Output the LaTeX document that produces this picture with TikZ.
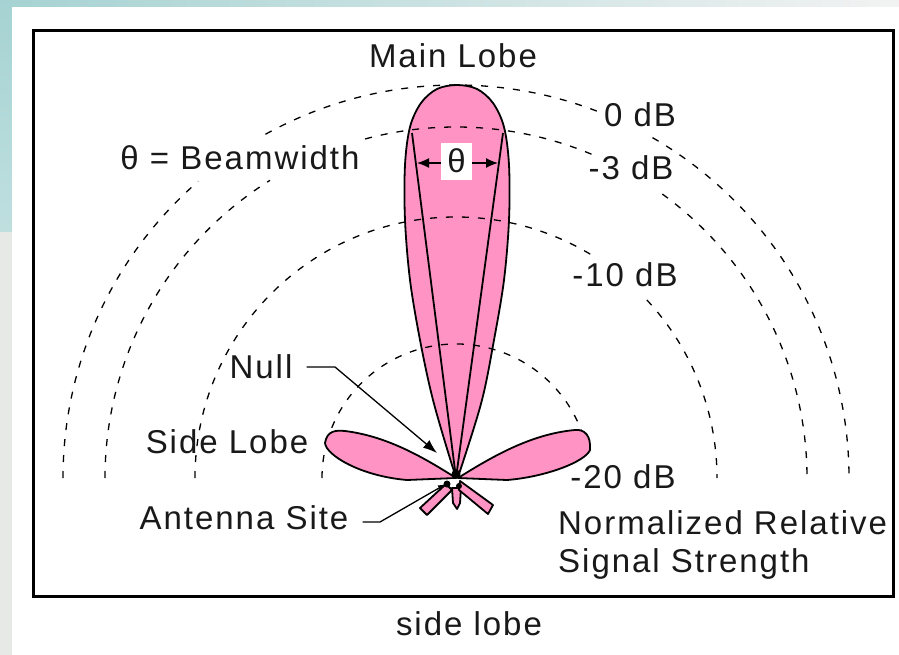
\documentclass[tikz,border=0pt]{standalone}
\usepackage{fontspec}
\setmainfont[LetterSpace=6]{Liberation Sans}
\usetikzlibrary{arrows.meta}
\definecolor{lobepink}{HTML}{FF94C4}
\tikzset{
  lbl/.style={font=\fontsize{33}{36}\selectfont, text=black!90, inner sep=0pt, anchor=base},
  rad/.style={draw=black, line width=1.3pt, dash pattern=on 7pt off 9pt},
  lobe/.style={draw=black, line width=1.8pt, fill=lobepink, line join=round},
  lead/.style={draw=black, line width=1.3pt},
  beam/.style={draw=black, line width=1.8pt}
}
\begin{document}
\begin{tikzpicture}[x=1pt,y=-1pt]
\useasboundingbox (0,0) rectangle (899,655);
% background
\shade[left color=teal!35!white, right color=black!5!white] (0,0) rectangle (899,7);
\shade[top color=teal!35!white, bottom color=teal!25!white] (0,0) rectangle (12,232);
\fill[green!4!gray!18] (0,232) rectangle (12,655);
\fill[white] (12,7) rectangle (899,655);
% frame
\node[draw=black, line width=2.6pt, minimum width=860pt, minimum height=566pt, anchor=north west, inner sep=0pt] (frame) at (32,29) {};
% lobes
\path[lobe] plot[smooth, tension=.55] coordinates {(457,478) (452,465) (433,400) (420,340) (410,280) (405,220) (405,165) (410,127) (421,103) (437,89) (457,85) (477,89) (493,103) (504,127) (509,165) (509,220) (504,280) (494,340) (482,400) (462,465) (457,478)};
\path[lobe] (456,478) .. controls (420,455) and (385,436) .. (345,431) .. controls (335,430) and (327,431) .. (325,443) .. controls (326,455) and (360,476) .. (407,480) -- cycle;
\path[lobe] (458,478) .. controls (490,458) and (530,434) .. (575,430) .. controls (585,429) and (591,436) .. (590,450) .. controls (585,462) and (545,477) .. (507,480) -- cycle;
\path[lobe] (446,484) -- (420,508) -- (427,515) -- (452,490) -- cycle;
\path[lobe] (452,488) -- (453,503) -- (457,509) -- (460,503) -- (461,488) -- cycle;
\path[lobe] (460,481) -- (493,505) -- (488,514) -- (459,490) -- cycle;
% site and beam
\coordinate (site) at (456,478);
\coordinate (beamL) at (412,133);
\coordinate (beamR) at (503,133);
\draw[beam] (site) -- (beamL);
\draw[beam] (site) -- (beamR);
\fill[black] (456,474) circle[radius=4.5pt];
\fill[black] (447,484) circle[radius=3.5pt];
\fill[black] (459,486) circle[radius=3pt];
\fill[white] (452,481) circle[radius=2.2pt];
% arcs
\begin{scope}[shift={(456,478)}, x=1pt, y=1pt]
\draw[rad] (180:393) arc[start angle=180,end angle=131,radius=393];
\draw[rad] (119:393) arc[start angle=119,end angle=69,radius=393];
\draw[rad] (60:393) arc[start angle=60,end angle=0,radius=393];
\draw[rad] (180:351) arc[start angle=180,end angle=122,radius=351];
\draw[rad] (105:351) arc[start angle=105,end angle=67,radius=351];
\draw[rad] (54:351) arc[start angle=54,end angle=0,radius=351];
\draw[rad] (180:261) arc[start angle=180,end angle=59,radius=261];
\draw[rad] (43:261) arc[start angle=43,end angle=0,radius=261];
\draw[rad] (180:134) arc[start angle=180,end angle=167,radius=134];
\draw[rad] (158:134) arc[start angle=158,end angle=21,radius=134];
\end{scope}
% theta box
\node[fill=white, minimum width=31pt, minimum height=37pt, inner sep=0pt] (thetabox) at (456.5,161.5) {};
\node[lbl] (thetasym) at (456.5,173) {θ};
\coordinate (armL) at (417,163);
\coordinate (armR) at (498,163);
\draw[lead, -{Latex[length=12pt,width=10pt]}] (thetabox.west |- armL) -- (armL);
\draw[lead, -{Latex[length=12pt,width=10pt]}] (thetabox.east |- armR) -- (armR);
% labels
\node[lbl] (main) at (453,68) {Main Lobe};
\node[lbl] (bw) at (240,170) {θ = Beamwidth};
\node[lbl] (db0) at (640,127) {0 dB};
\node[lbl] (db3) at (631,179) {-3 dB};
\node[lbl] (db10) at (625,286) {-10 dB};
\node[lbl] (db20) at (623,488) {-20 dB};
\node[lbl] (null) at (261,378) {Null};
\node[lbl] (sl) at (227,453) {Side Lobe};
\node[lbl] (as) at (244,529) {Antenna Site};
\node[lbl, anchor=base west] (nr) at (558,534) {Normalized Relative};
\node[lbl, anchor=base west] (ss) at (558,572) {Signal Strength};
\node[lbl] (cap) at (469,635) {side lobe};
% leaders
\coordinate (nullbend) at (335,367);
\coordinate (nulltip) at (437,453);
\coordinate (sitebend) at (380,522);
\coordinate (sitetip) at (446,484);
\draw[lead, -{Latex[length=14pt,width=10pt]}] ([xshift=14pt,yshift=11pt]null.base east) -- (nullbend) -- (nulltip);
\draw[lead, -{Latex[length=8pt,width=6pt]}] ([xshift=14pt,yshift=7pt]as.base east) -- (sitebend) -- (sitetip);
\end{tikzpicture}
\end{document}
